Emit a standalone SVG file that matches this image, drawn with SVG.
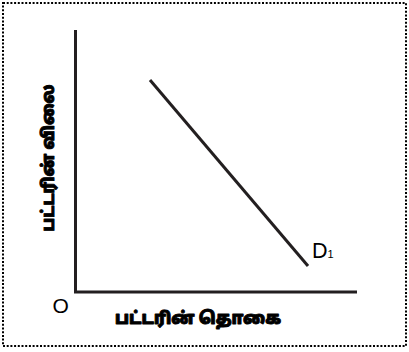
<svg xmlns="http://www.w3.org/2000/svg" width="409" height="352" viewBox="0 0 409 352">
<style>
.frame{fill:none;stroke:#000;stroke-width:2;stroke-dasharray:2 1.7}
.axis{fill:none;stroke:#231f20;stroke-width:3}
.curve{fill:none;stroke:#231f20;stroke-width:3}
.lbl{font-family:"Noto Sans Tamil","Noto Sans",sans-serif;font-weight:900;fill:#000;stroke:#000;stroke-width:0.9;stroke-linejoin:round}
.lat{font-family:"Liberation Sans",Arial,sans-serif;fill:#000}
</style>
<rect width="409" height="352" fill="#fff"/>
<rect class="frame" x="3" y="3" width="403" height="343"/>
<g id="axes">
<polyline class="axis" points="75.5,30 75.5,292 357,292"/>
</g>
<g id="connectors">
<line class="curve" x1="150" y1="80" x2="308" y2="266"/>
</g>
<g id="origin"><text class="lat" x="52.5" y="313" font-size="21">O</text></g>
<g id="d1"><text class="lat" x="312" y="257.5" font-size="21.5">D<tspan font-size="11">1</tspan></text></g>
<g id="xlabel"><text class="lbl" x="198" y="324" font-size="17" text-anchor="middle" textLength="166" lengthAdjust="spacingAndGlyphs">பட்டரின் தொகை</text></g>
<g id="ylabel"><text class="lbl" transform="translate(54,158) rotate(-90)" font-size="17" text-anchor="middle" textLength="147" lengthAdjust="spacingAndGlyphs">பட்டரின் விலை</text></g>
</svg>
